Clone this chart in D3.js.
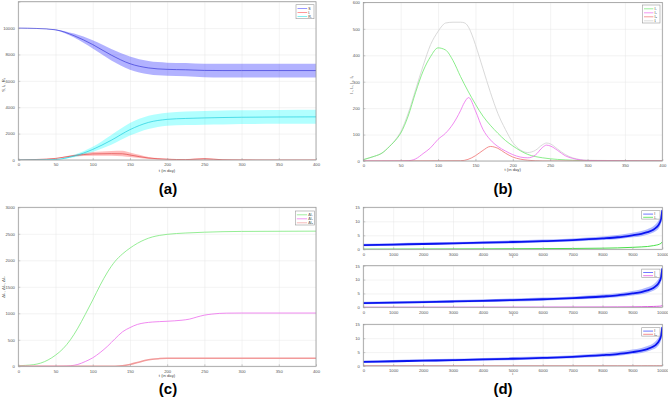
<!DOCTYPE html>
<html>
<head>
<meta charset="utf-8">
<script src="https://cdn.jsdelivr.net/npm/d3@7"></script>
<style>
body { margin: 0; background: #fff; }
svg { display: block; }
text { font-family: "Liberation Sans", Arial, sans-serif; }
</style>
</head>
<body>
<div id="chart"></div>
<script>
// ---- panel (a): S, I_T, R_T with bands
const tA = [0, 25, 50, 75, 100, 125, 150, 175, 200, 225, 250, 275, 300, 350, 400];
const sMid = [10000, 9970, 9870, 9420, 8750, 7950, 7300, 6980, 6870, 6840, 6790, 6780, 6780, 6780, 6780];
const sHi  = [10000, 9975, 9900, 9580, 9080, 8420, 7850, 7500, 7380, 7350, 7300, 7300, 7300, 7300, 7300];
const sLo  = [10000, 9965, 9840, 9280, 8450, 7550, 6850, 6500, 6380, 6340, 6280, 6260, 6260, 6260, 6260];
const rMid = [0, 10, 40, 300, 800, 1500, 2300, 2850, 3080, 3150, 3190, 3220, 3240, 3260, 3270];
const rHi  = [0, 12, 60, 400, 1000, 1900, 2800, 3350, 3580, 3680, 3720, 3750, 3770, 3790, 3800];
const rLo  = [0, 8, 25, 200, 600, 1150, 1850, 2350, 2600, 2650, 2680, 2700, 2720, 2740, 2750];
const tAi  = [0, 25, 50, 75, 100, 125, 140, 150, 175, 200, 225, 250, 275, 300, 350, 400];
const iMid = [10, 40, 120, 330, 460, 480, 470, 380, 150, 60, 30, 90, 20, 5, 0, 0];
const iHi  = [10, 45, 140, 400, 600, 680, 700, 560, 230, 100, 60, 150, 40, 10, 0, 0];
const iLo  = [10, 35, 100, 260, 330, 320, 280, 220, 80, 30, 10, 40, 5, 0, 0, 0];

// ---- panel (b): I1, I2, I3, I_T
const tB1 = [0, 8, 15, 25, 35, 45, 50, 60, 70, 80, 90, 100, 110, 120, 130, 140, 150, 160, 170, 180, 190, 200, 220, 240, 260, 280, 300, 400];
const bI1 = [5, 12, 18, 30, 55, 85, 105, 170, 260, 340, 395, 428, 420, 380, 320, 265, 215, 170, 135, 105, 78, 57, 25, 12, 6, 3, 1, 0];
const tB2 = [0, 50, 60, 70, 80, 90, 100, 110, 120, 130, 135, 141, 150, 160, 170, 180, 190, 200, 210, 220, 230, 240, 245, 250, 260, 270, 280, 300, 400];
const bI2 = [0, 0, 1, 8, 28, 50, 82, 105, 140, 190, 220, 240, 190, 120, 80, 55, 38, 24, 15, 12, 22, 52, 60, 57, 40, 20, 10, 2, 0];
const tB3 = [0, 130, 140, 150, 160, 170, 180, 190, 200, 210, 220, 240, 400];
const bI3 = [0, 1, 6, 20, 40, 55, 48, 30, 15, 7, 3, 0, 0];
const tBT = [0, 15, 25, 35, 45, 50, 60, 70, 80, 90, 100, 105, 110, 120, 130, 135, 140, 145, 150, 160, 170, 180, 190, 200, 210, 220, 230, 240, 245, 250, 260, 270, 280, 300, 400];
const bIT = [5, 18, 30, 55, 88, 110, 180, 270, 360, 440, 490, 510, 522, 525, 525, 523, 510, 480, 440, 350, 260, 180, 120, 70, 42, 32, 40, 62, 68, 65, 45, 25, 12, 3, 0];

// ---- panel (c): cumulative
const tC1 = [0, 10, 20, 30, 40, 50, 60, 70, 80, 90, 100, 110, 120, 130, 140, 150, 160, 170, 180, 190, 200, 225, 250, 300, 400];
const cI1 = [10, 18, 30, 60, 120, 210, 330, 500, 720, 980, 1250, 1530, 1780, 1980, 2120, 2230, 2320, 2390, 2440, 2470, 2490, 2515, 2530, 2545, 2550];
const tC2 = [0, 50, 60, 70, 80, 90, 100, 110, 120, 130, 140, 150, 160, 170, 180, 200, 220, 230, 240, 250, 260, 270, 280, 300, 400];
const cI2 = [0, 0, 2, 10, 35, 90, 160, 260, 380, 520, 650, 730, 790, 820, 835, 850, 870, 890, 930, 965, 985, 998, 1003, 1005, 1005];
const tC3 = [0, 130, 140, 150, 160, 170, 180, 190, 200, 400];
const cI3 = [0, 2, 10, 35, 70, 110, 135, 145, 150, 152];

// ---- panel (d): sorted samples
const iD = [0, 1000, 2000, 3000, 4000, 5000, 6000, 7000, 8000, 8500, 9000, 9300, 9500, 9700, 9800, 9900, 9950, 10000];
const dBlue   = [1.5, 1.7, 1.9, 2.1, 2.35, 2.6, 2.9, 3.3, 3.9, 4.3, 5.0, 5.5, 6.1, 7.0, 7.8, 9.2, 10.5, 14];
const dBlueHi = [2.0, 2.2, 2.4, 2.6, 2.9, 3.2, 3.5, 3.9, 4.6, 5.1, 5.9, 6.5, 7.2, 8.2, 9.2, 10.8, 12.3, 15];
const dBlueLo = [1.1, 1.3, 1.5, 1.7, 1.9, 2.1, 2.4, 2.8, 3.3, 3.6, 4.3, 4.7, 5.2, 6.0, 6.6, 7.8, 9.0, 12];
const dGreen   = [0.05, 0.07, 0.1, 0.12, 0.15, 0.2, 0.25, 0.3, 0.4, 0.5, 0.7, 0.85, 1.0, 1.3, 1.5, 1.8, 2.1, 2.6];
const dMagenta = [0.02, 0.02, 0.03, 0.03, 0.04, 0.05, 0.06, 0.08, 0.1, 0.12, 0.15, 0.2, 0.25, 0.3, 0.35, 0.4, 0.45, 0.6];
const dRed     = [0.01, 0.01, 0.01, 0.01, 0.01, 0.01, 0.01, 0.01, 0.02, 0.02, 0.02, 0.02, 0.03, 0.03, 0.03, 0.04, 0.04, 0.05];

const tTicks = [0, 50, 100, 150, 200, 250, 300, 350, 400];
const iTicks = [0, 1000, 2000, 3000, 4000, 5000, 6000, 7000, 8000, 9000, 10000];

const svg = d3.select("#chart").append("svg").attr("width", 668).attr("height", 402);
let clipN = 0;

// MATLAB-like axes: grid, inward ticks, grey box
function axes(box, xDom, yDom, xTicks, yTicks, yLabelTicks) {
  const x = d3.scaleLinear().domain(xDom).range([box.l, box.r]);
  const y = d3.scaleLinear().domain(yDom).range([box.b, box.t]);
  const g = svg.append("g");
  const h = box.b - box.t, w = box.r - box.l;

  g.append("g").attr("transform", `translate(0,${box.b})`)
    .call(d3.axisBottom(x).tickValues(xTicks).tickSize(-h).tickFormat(""))
    .call(a => a.select(".domain").remove())
    .call(a => a.selectAll("line").attr("stroke", "#e6e6e6").attr("stroke-width", 0.5));
  g.append("g").attr("transform", `translate(${box.l},0)`)
    .call(d3.axisLeft(y).tickValues(yTicks).tickSize(-w).tickFormat(""))
    .call(a => a.select(".domain").remove())
    .call(a => a.selectAll("line").attr("stroke", "#e6e6e6").attr("stroke-width", 0.5));

  const id = "clip" + (clipN++);
  svg.append("clipPath").attr("id", id).append("rect")
    .attr("x", box.l).attr("y", box.t).attr("width", w).attr("height", h);
  const plot = svg.append("g").attr("clip-path", `url(#${id})`);

  const ax = svg.append("g");
  ax.append("g").attr("transform", `translate(0,${box.b})`)
    .call(d3.axisBottom(x).tickValues(xTicks).tickSize(-2).tickPadding(3.5).tickFormat(d3.format("d")))
    .call(a => a.select(".domain").remove())
    .call(a => a.selectAll("line").attr("stroke", "#9a9a9a").attr("stroke-width", 0.5))
    .call(a => a.selectAll("text").attr("font-size", 4.2).attr("fill", "#555"));
  ax.append("g").attr("transform", `translate(${box.l},0)`)
    .call(d3.axisLeft(y).tickValues(yTicks).tickSize(-2).tickPadding(3.5)
      .tickFormat(d => (yLabelTicks && !yLabelTicks.includes(d)) ? "" : d3.format("d")(d)))
    .call(a => a.select(".domain").remove())
    .call(a => a.selectAll("line").attr("stroke", "#9a9a9a").attr("stroke-width", 0.5))
    .call(a => a.selectAll("text").attr("font-size", 4.2).attr("fill", "#555"));
  ax.append("rect").attr("x", box.l).attr("y", box.t).attr("width", w).attr("height", h)
    .attr("fill", "none").attr("stroke", "#9a9a9a").attr("stroke-width", 0.8);
  return { x, y, plot, ax };
}

function line(p, xs, ys, color, width) {
  p.plot.append("path")
    .datum(xs.map((t, i) => [t, ys[i]]))
    .attr("fill", "none").attr("stroke", color).attr("stroke-width", width || 0.7)
    .attr("d", d3.line().x(d => p.x(d[0])).y(d => p.y(d[1])).curve(d3.curveMonotoneX));
}

function band(p, xs, lo, hi, color, op) {
  p.plot.append("path")
    .datum(xs.map((t, i) => [t, lo[i], hi[i]]))
    .attr("fill", color).attr("fill-opacity", op).attr("stroke", "none")
    .attr("d", d3.area().x(d => p.x(d[0])).y0(d => p.y(d[1])).y1(d => p.y(d[2])).curve(d3.curveMonotoneX));
}

function legend(x0, y0, w, step, items) {
  const g = svg.append("g");
  g.append("rect").attr("x", x0).attr("y", y0).attr("width", w).attr("height", step * items.length + 2)
    .attr("fill", "#fff").attr("stroke", "#9a9a9a").attr("stroke-width", 0.6);
  items.forEach((it, i) => {
    const yy = y0 + 1.8 + step * (i + 0.5);
    g.append("line").attr("x1", x0 + 1.5).attr("x2", x0 + w * 0.62).attr("y1", yy).attr("y2", yy)
      .attr("stroke", it.c).attr("stroke-width", 0.7);
    g.append("text").attr("x", x0 + w * 0.68).attr("y", yy + 1.2).attr("font-size", 3.6)
      .attr("fill", "#333").text(it.t);
  });
}

function label(x, y, txt, size, rotate, weight) {
  const t = svg.append("text").attr("x", x).attr("y", y).attr("font-size", size)
    .attr("text-anchor", "middle").attr("fill", weight ? "#000" : "#444").text(txt);
  if (weight) t.attr("font-weight", weight);
  if (rotate) t.attr("transform", `rotate(-90,${x},${y})`);
}

// (a)
const pa = axes({ l: 18.3, r: 316, t: 1.7, b: 160 }, [0, 400], [0, 12000], tTicks,
  [0, 2000, 4000, 6000, 8000, 10000, 12000], [0, 2000, 4000, 6000, 8000, 10000]);
band(pa, tA, sLo, sHi, "#0000ff", 0.3);
band(pa, tAi, iLo, iHi, "#ff2020", 0.3);
band(pa, tA, rLo, rHi, "#00ffff", 0.3);
line(pa, tA, sMid, "#3a3ad8");
line(pa, tAi, iMid, "#e04848");
line(pa, tA, rMid, "#20cfdf");
legend(296, 4.7, 18, 4, [{ c: "#6a6aff", t: "S" }, { c: "#ff6a6a", t: "I\u209c" }, { c: "#50e8e8", t: "R\u209c" }]);
label(167, 171.5, "t (in day)", 4.2);
label(5, 85, "S, I\u209c, R\u209c", 4.2, true);
label(168, 194, "(a)", 15, false, "bold");

// (b)
const pb = axes({ l: 363.3, r: 662.3, t: 2.4, b: 161 }, [0, 400], [0, 600], tTicks,
  [0, 100, 200, 300, 400, 500, 600]);
line(pb, tBT, bIT, "#cfcfcf", 0.8);
line(pb, tB1, bI1, "#6ee86e", 0.8);
line(pb, tB2, bI2, "#ec6cec", 0.8);
line(pb, tB3, bI3, "#f07070", 0.8);
legend(642.5, 5, 17.5, 4, [{ c: "#6ee86e", t: "I\u2081" }, { c: "#ec6cec", t: "I\u2082" },
  { c: "#f07070", t: "I\u2083" }, { c: "#cfcfcf", t: "I\u209c" }]);
label(512.7, 171, "t (in day)", 4.2);
label(352.5, 85, "I\u2081, I\u2082, I\u2083, I\u209c", 4.2, true);
label(503, 194, "(b)", 15, false, "bold");

// (c)
const pc = axes({ l: 18.3, r: 316, t: 207.3, b: 366.3 }, [0, 400], [0, 3000], tTicks,
  [0, 500, 1000, 1500, 2000, 2500, 3000]);
line(pc, tC1, cI1, "#7ae87a", 0.8);
line(pc, tC2, cI2, "#ec6cec", 0.8);
line(pc, tC3, cI3, "#f29a9a", 1.5);
legend(295.3, 211, 19, 4, [{ c: "#7ae87a", t: "\u0394I\u2081" }, { c: "#ec6cec", t: "\u0394I\u2082" },
  { c: "#f29a9a", t: "\u0394I\u2083" }]);
label(167, 376.5, "t (in day)", 4.2);
label(5, 287, "\u0394I\u2081, \u0394I\u2082, \u0394I\u2083", 4.2, true);
label(168, 394, "(c)", 15, false, "bold");

// (d)
const dBoxes = [{ t: 207.3, b: 249.3 }, { t: 265.7, b: 307.3 }, { t: 324.3, b: 366 }];
const dSecond = [{ v: dGreen, c: "#33dd33", t: "I\u2081" }, { v: dMagenta, c: "#e040e0", t: "I\u2082" },
  { v: dRed, c: "#f06060", t: "I\u2083" }];
dBoxes.forEach((bx, k) => {
  const p = axes({ l: 363.3, r: 662.3, t: bx.t, b: bx.b }, [0, 10000], [0, 15], iTicks, [0, 5, 10, 15]);
  band(p, iD, dBlueLo, dBlueHi, "#6f7fff", 0.55);
  line(p, iD, dBlue, "#0a14f0", 1.8);
  line(p, iD, dSecond[k].v, dSecond[k].c, 0.9);
  legend(641.7, bx.t + 3.4, 18.3, 3.2, [{ c: "#3040ff", t: "I" }, { c: dSecond[k].c, t: dSecond[k].t }]);
  label(512.7, bx.b + 9, "i", 4.2);
});
label(503, 394, "(d)", 15, false, "bold");
</script>
</body>
</html>
